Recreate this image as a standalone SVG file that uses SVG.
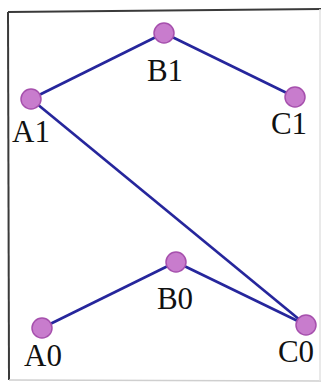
<svg xmlns="http://www.w3.org/2000/svg" width="321" height="382" viewBox="0 0 321 382">
<style>
.node circle{fill:#c87ccd;stroke:#a650ad;stroke-width:1.5}
.edge{stroke:#26269c;stroke-width:2.7;fill:none}
.lbl{font-family:"Liberation Serif","Times New Roman",serif;font-size:31px;fill:#111;text-anchor:middle}
</style>
<rect width="321" height="382" fill="#fff"/>
<g id="frame">
<line x1="8" y1="12" x2="321" y2="9" stroke="#3a3a3a" stroke-width="2"/>
<line x1="8" y1="12" x2="9" y2="380" stroke="#3a3a3a" stroke-width="2"/>
<line x1="9" y1="380" x2="321" y2="381" stroke="#cfcfcf" stroke-width="1.5"/>
<line x1="320" y1="9" x2="320" y2="381" stroke="#e2e2e2" stroke-width="1.5"/>
</g>
<g id="connectors">
<line class="edge" x1="31" y1="99" x2="164" y2="33"/>
<line class="edge" x1="164" y1="33" x2="295" y2="97"/>
<line class="edge" x1="31" y1="99" x2="306" y2="325"/>
<line class="edge" x1="42" y1="328" x2="176" y2="262"/>
<line class="edge" x1="176" y1="262" x2="306" y2="325"/>
</g>
<g id="B1" class="node"><circle cx="164" cy="33" r="10"/><text class="lbl" x="165" y="81">B1</text></g>
<g id="A1" class="node"><circle cx="31" cy="99" r="10"/><text class="lbl" x="31" y="142">A1</text></g>
<g id="C1" class="node"><circle cx="295" cy="97" r="10"/><text class="lbl" x="289" y="134">C1</text></g>
<g id="B0" class="node"><circle cx="176" cy="262" r="10"/><text class="lbl" x="175" y="309">B0</text></g>
<g id="A0" class="node"><circle cx="42" cy="328" r="10"/><text class="lbl" x="43" y="366">A0</text></g>
<g id="C0" class="node"><circle cx="306" cy="325" r="10"/><text class="lbl" x="296" y="362">C0</text></g>
</svg>
